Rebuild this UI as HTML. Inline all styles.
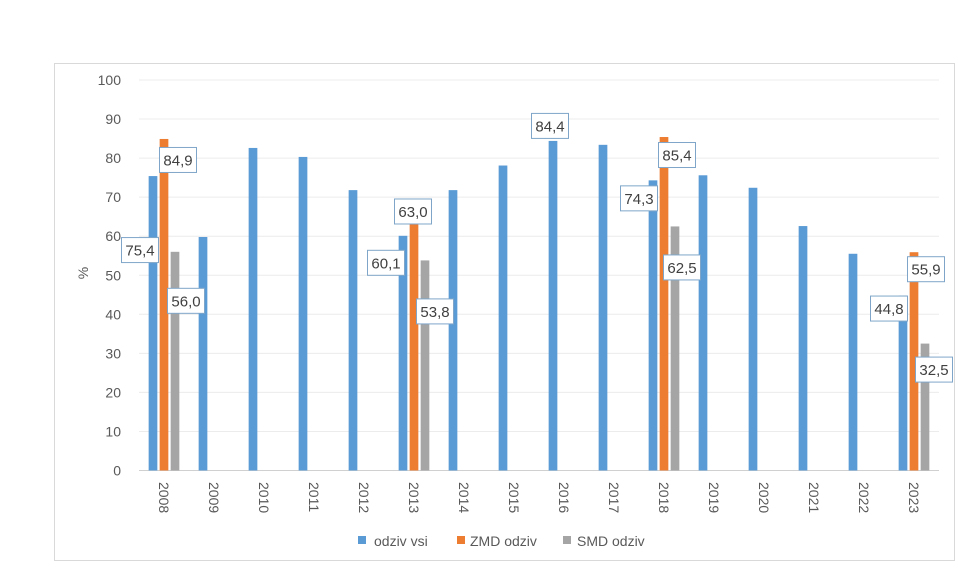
<!DOCTYPE html>
<html><head><meta charset="utf-8"><style>
body{margin:0;background:#fff;}
svg text{font-family:"Liberation Sans",sans-serif;}
</style></head><body>
<svg width="971" height="577" xmlns="http://www.w3.org/2000/svg" id="chart">
<rect x="54.5" y="63.5" width="900" height="497" fill="#fff" stroke="#d9d9d9"/>
<text x="88" y="273" font-size="14" fill="#595959" text-anchor="middle" transform="rotate(-90 88 273)">%</text>
<g id="grid"></g><g id="bars"></g><g id="labels"></g>
<g>
<rect x="358" y="536" width="8" height="8" fill="#5b9bd5"/>
<text x="374" y="546" font-size="14" fill="#595959">odziv vsi</text>
<rect x="457" y="536" width="8" height="8" fill="#ed7d31"/>
<text x="470" y="546" font-size="14" fill="#595959">ZMD odziv</text>
<rect x="563" y="536" width="8" height="8" fill="#a5a5a5"/>
<text x="577" y="546" font-size="14" fill="#595959">SMD odziv</text>
</g>
</svg>
<script>
const categories=['2008','2009','2010','2011','2012','2013','2014','2015','2016','2017','2018','2019','2020','2021','2022','2023'];
const odzivVsi=[75.4,59.8,82.6,80.3,71.8,60.1,71.8,78.1,84.4,83.4,74.3,75.6,72.4,62.6,55.5,44.8];
const zmdOdziv=[84.9,null,null,null,null,63.0,null,null,null,null,85.4,null,null,null,null,55.9];
const smdOdziv=[56.0,null,null,null,null,53.8,null,null,null,null,62.5,null,null,null,null,32.5];
const yTicks=[0,10,20,30,40,50,60,70,80,90,100];
// labels: [series, category index, dx, dy] offsets from bar top-center (layout only)
const labelSpecs=[[0,0,-13,74],[1,0,14,21],[2,0,11,49],[0,5,-17,27],[1,5,-1,-13],[2,5,10,51],[0,8,-3,-15],[0,10,-14,18],[1,10,13,18],[2,10,7,41],[0,15,-14,13],[1,15,12,17],[2,15,9,26]];
const ns='http://www.w3.org/2000/svg';
const x0=139,cw=50,y0=470.5,ppu=3.905;
const yS=v=>y0-v*ppu;
const xC=i=>x0+cw*i+cw/2;
const series=[odzivVsi,zmdOdziv,smdOdziv];
const colors=['#5b9bd5','#ed7d31','#a5a5a5'];
const names=['odziv-vsi','zmd','smd'];
function mk(t,a,p){const e=document.createElementNS(ns,t);for(const k in a)e.setAttribute(k,a[k]);p.appendChild(e);return e;}
const grid=document.getElementById('grid');
yTicks.forEach(t=>{
 const l=mk('line',{x1:x0,x2:x0+cw*16,y1:yS(t),y2:yS(t),stroke:t===0?'#d0d0d0':'#ececec','stroke-width':1},grid);
 
 
 const tx=mk('text',{x:121,y:yS(t)+5,'font-size':14,fill:'#595959','text-anchor':'end'},grid);
 tx.textContent=t;
 
 
});
categories.forEach((c,i)=>{
 const x=xC(i)-5,y=482;
 const tx=mk('text',{x:x,y:y,'font-size':14,fill:'#595959',transform:`rotate(90 ${x} ${y})`},grid);
 tx.textContent=c;
 
 
});
const bars=document.getElementById('bars');
const bw=8.7,step=11;
function barX(s,i){return xC(i)-1.5*step+s*step+(step-bw)/2;}
series.forEach((arr,s)=>arr.forEach((v,i)=>{
 if(v==null)return;
 const r=mk('rect',{x:barX(s,i),y:yS(v),width:bw,height:v*ppu,fill:colors[s]},bars);
 
 
}));
const labels=document.getElementById('labels');
labelSpecs.forEach(([s,i,dx,dy])=>{
 const v=series[s][i];
 const cx=barX(s,i)+bw/2+dx,cy=yS(v)+dy;
 const txt=v.toFixed(1).replace('.',',');
 const g=mk('g',{},labels);
 
 
 mk('rect',{x:cx-18.5,y:cy-12.5,width:37,height:25,fill:'#fff',stroke:'#7fa6c9','stroke-width':1},g);
 const t=mk('text',{x:cx,y:cy+5.5,'font-size':15,fill:'#404040','text-anchor':'middle'},g);
 t.textContent=txt;
});
</script>
</body></html>
